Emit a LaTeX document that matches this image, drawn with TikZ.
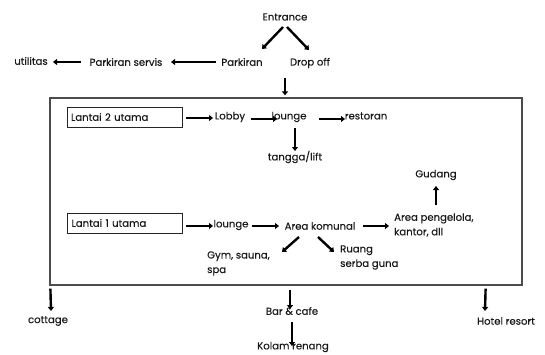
\documentclass[tikz,border=0pt]{standalone}
\usepackage{fontspec}
\setmainfont{Poppins}[FakeBold=0.3]
\usetikzlibrary{arrows.meta}
\begin{document}
\begin{tikzpicture}[x=1pt,y=1pt,
  every node/.style={font=\fontsize{10.1}{14.5}\selectfont, inner sep=0pt, text=black!90},
  arr/.style={-{Triangle[length=4pt,width=6pt]}, line width=2.4pt, black},
  lbox/.style={draw=black!85, line width=0.9pt, minimum width=115, minimum height=20, text width=107, align=left, inner sep=4pt},
  frame/.style={draw=black!70, line width=1.2pt, minimum width=472, minimum height=187}]
\useasboundingbox (0,0) rectangle (545,354);
% top
\node (ent) at (285,337) {Entrance};
\node (park) at (242,292) {Parkiran};
\node (drop) at (310,291) {Drop off};
\node (serv) at (126,292) {Parkiran servis};
\node (util) at (31,293) {utilitas};
\draw[arr] ([shift={(-2,-10)}]ent.center) -- ([shift={(20,13)}]park.center);
\draw[arr] ([shift={(2,-10)}]ent.center) -- ([shift={(-1,13)}]drop.center);
\draw[arr] ([shift={(-26,0)}]park.center) -- ([shift={(45,0)}]serv.center);
\draw[arr] ([shift={(-45,0)}]serv.center) -- ([shift={(22,-1)}]util.center);
% frame
\node[frame] (box) at (286,162.5) {};
\draw[arr] ([shift={(-25,-15)}]drop.center) -- ([shift={(-1,2)}]box.north);
% floor 2
\node[lbox] (l2) at (124.5,237) {Lantai 2 utama};
\node (lobby) at (230,237) {Lobby};
\node (lng2) at (289,237) {lounge};
\node (resto) at (366,238) {restoran};
\node (tangga) at (295,197) {tangga/lift};
\draw[arr] ([shift={(61.5,-1)}]l2.center) -- ([shift={(-17,-1)}]lobby.center);
\draw[arr] ([shift={(21,-2)}]lobby.center) -- ([shift={(-12,-2)}]lng2.center);
\draw[arr] ([shift={(30,-2)}]lng2.center) -- ([shift={(-21,-3)}]resto.center);
\draw[arr] ([shift={(6,-11)}]lng2.center) -- ([shift={(0,6)}]tangga.center);
% floor 1
\node[lbox] (l1) at (125,131) {Lantai 1 utama};
\node (lng1) at (231,129) {lounge};
\node (kom) at (320,128) {Area komunal};
\node[align=left, anchor=west] (peng) at (394,129) {Area pengelola,\\kantor, dll};
\node (gud) at (436,179) {Gudang};
\node[align=left, anchor=west] (gym) at (207,90.5) {Gym, sauna,\\spa};
\node[align=left, anchor=west] (ruang) at (340,96.5) {Ruang\\serba guna};
\draw[arr] ([shift={(61,-3)}]l1.center) -- ([shift={(-18,-1)}]lng1.center);
\draw[arr] ([shift={(21,-1)}]lng1.center) -- ([shift={(-41,0)}]kom.center);
\draw[arr] ([shift={(43,0)}]kom.center) -- ([shift={(-5,-1)}]peng.west);
\draw[arr] ([shift={(42,20)}]peng.west) -- ([shift={(0,-11)}]gud.center);
\draw[arr] ([shift={(-21,-11)}]kom.center) -- ([shift={(75,11.5)}]gym.west);
\draw[arr] ([shift={(-2,-11)}]kom.center) -- ([shift={(-6,5.5)}]ruang.west);
% bottom
\node (cot) at (48,33) {cottage};
\node (bar) at (292,43) {Bar \& cafe};
\node (kol) at (293,7) {Kolam renang};
\node (hotel) at (506,33) {Hotel resort};
\draw[arr] ([shift={(1,-3)}]box.south west) -- ([shift={(3,10)}]cot.center);
\draw[arr] ([shift={(4,-4)}]box.south) -- ([shift={(-2,2)}]bar.center);
\draw[arr] ([shift={(0,-11)}]bar.center) -- ([shift={(-1,1)}]kol.center);
\draw[arr] ([shift={(-37,-3)}]box.south east) -- ([shift={(-21,10)}]hotel.center);
\end{tikzpicture}
\end{document}
